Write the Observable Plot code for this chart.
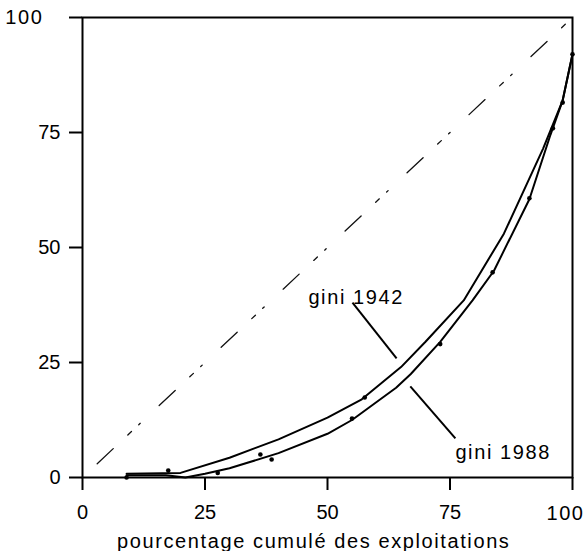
<!DOCTYPE html>
<html>
<head>
<meta charset="utf-8">
<script src="https://cdn.jsdelivr.net/npm/d3@7"></script>
<script src="https://cdn.jsdelivr.net/npm/@observablehq/plot@0.6"></script>
<style>
  body { margin: 0; background: #fff; }
</style>
</head>
<body>
<div id="chart"></div>
<script>
// Lorenz curves
const x1942 = [9, 20, 30, 40, 50, 57, 65, 70, 77.8, 86, 94, 98, 100];
const y1942 = [0.8, 1, 4.3, 8.3, 13, 17, 24, 29.5, 38.5, 53, 71.5, 82, 92];
const x1988 = [9, 17, 21, 25, 30, 40, 50, 55, 64, 67, 73, 79.6, 84, 91.2, 95.5, 98, 100];
const y1988 = [0.5, 0.5, 0, 0.8, 2, 5.3, 9.5, 12.5, 19.5, 22.5, 29.5, 38.5, 45, 60.5, 74.5, 82, 92];
// observed points
const dotX = [9, 17.5, 27.6, 36.3, 38.6, 55, 57.6, 73, 83.7, 91.2, 96, 98, 100];
const dotY = [0, 1.5, 1, 5, 3.9, 12.8, 17.4, 29, 44.6, 60.7, 75.9, 81.5, 92];
// equality line
const diagX = [3, 100];
const diagY = [3, 100];
// tick labels
const ticks = [0, 25, 50, 75, 100];
const xLabel = "pourcentage cumulé des exploitations";
const labels = [
  {text: "gini 1942", x: 46.1, y: 39.1, lx1: 55.1, ly1: 38, lx2: 64.1, ly2: 25.9},
  {text: "gini 1988", x: 76.1, y: 5.4, lx1: 66.9, ly1: 19.8, lx2: 76.1, ly2: 8.5}
];

const s1942 = x1942.map((x, i) => ({x, y: y1942[i]}));
const s1988 = x1988.map((x, i) => ({x, y: y1988[i]}));
const dots = dotX.map((x, i) => ({x, y: dotY[i]}));
const diag = diagX.map((x, i) => ({x, y: diagY[i]}));
const last = ticks[ticks.length - 1];

const chart = Plot.plot({
  width: 586,
  height: 551,
  marginLeft: 82,
  marginRight: 14,
  marginTop: 17,
  marginBottom: 74,
  style: {fontFamily: "'Liberation Sans', Arial, sans-serif", fontSize: "20px", color: "#000", background: "#fff"},
  x: {domain: [0, 100]},
  y: {domain: [0, 100]},
  marks: [
    Plot.frame({stroke: "#000", strokeWidth: 2}),
    Plot.axisX({ticks: ticks, tickSize: 13, tickPadding: 14, strokeWidth: 2, label: null, fontSize: 20,
      tickFormat: d => d === last ? "" : d}),
    Plot.text([last], {x: d => d, frameAnchor: "bottom", dy: 36, dx: -7, text: d => String(d), lineAnchor: "middle", fontSize: 20, fill: "#000"}),
    Plot.axisY({ticks: ticks, tickSize: 13, tickPadding: 9, strokeWidth: 2, label: null, fontSize: 20,
      tickFormat: d => d === last ? "" : d}),
    Plot.text([last], {y: d => d, frameAnchor: "left", dx: -39, text: d => String(d), textAnchor: "end", lineAnchor: "middle", fontSize: 20, fill: "#000"}),
    Plot.line(diag, {x: "x", y: "y", stroke: "#111", strokeWidth: 1.3, strokeDasharray: "22,20,5,10,2,26"}),
    Plot.line(s1942, {x: "x", y: "y", stroke: "#000", strokeWidth: 2, strokeLinejoin: "round"}),
    Plot.line(s1988, {x: "x", y: "y", stroke: "#000", strokeWidth: 2, strokeLinejoin: "round"}),
    Plot.dot(dots, {x: "x", y: "y", r: 2.3, fill: "#000"}),
    Plot.link(labels, {x1: "lx1", y1: "ly1", x2: "lx2", y2: "ly2", stroke: "#000", strokeWidth: 2}),
    Plot.text(labels, {x: "x", y: "y", text: "text", textAnchor: "start", lineAnchor: "middle", fontSize: 20, fill: "#000"}),
    Plot.text([xLabel], {frameAnchor: "bottom", x: 47.2, text: d => d, dy: 64, lineAnchor: "middle", fontSize: 20, fill: "#000"})
  ]
});
document.getElementById("chart").appendChild(chart);
// widen the letter spacing of the annotations as in the print
d3.select(chart).selectAll("g[aria-label='text'] text").style("letter-spacing", "1.6px");
</script>
</body>
</html>
